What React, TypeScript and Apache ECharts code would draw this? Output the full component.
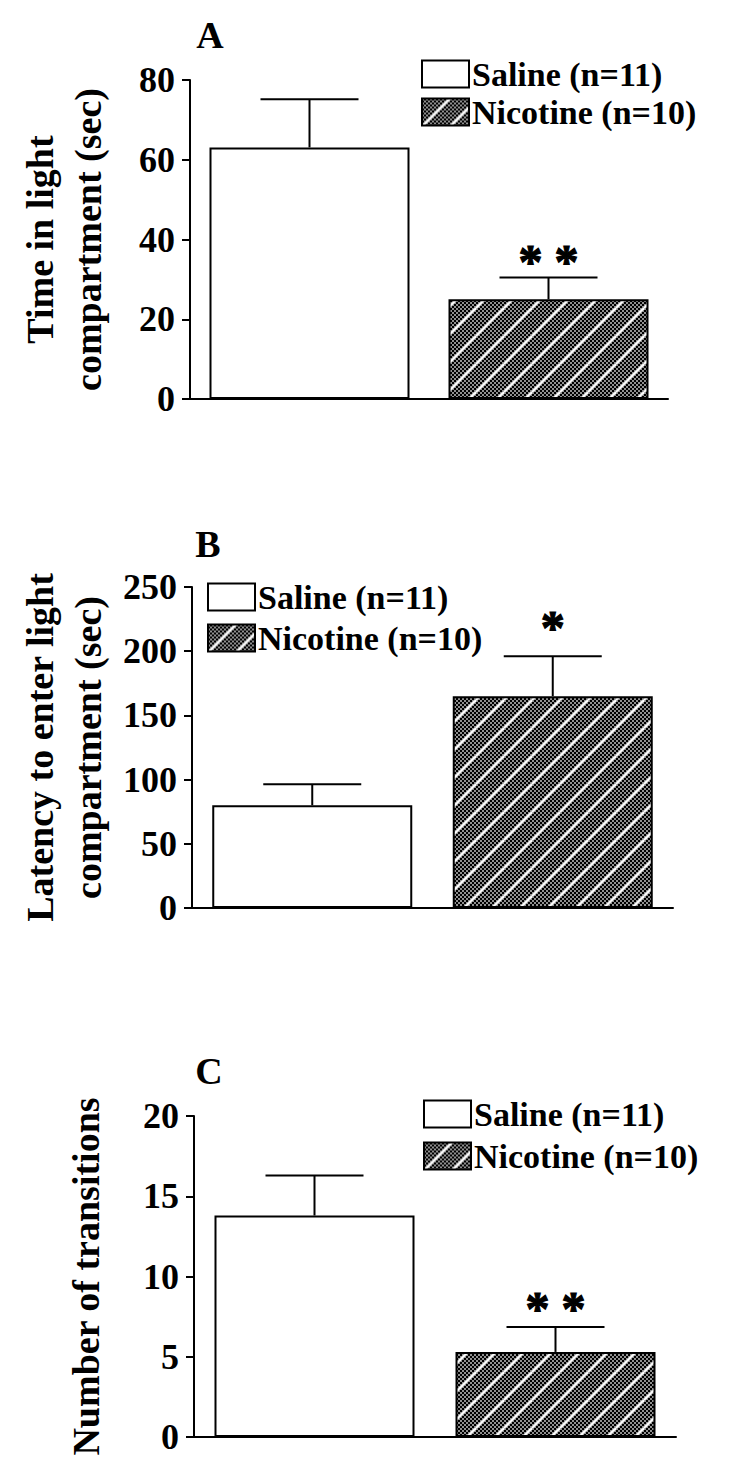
import React, { useEffect, useRef } from "react";
import * as echarts from "echarts";

// ---------- data ----------
const GROUPS = ["Saline (n=11)", "Nicotine (n=10)"];

const TIME_MEAN = [63.1, 25.0];
const TIME_SEM = [12.1, 5.5];
const TIME_SIG = ["", "**"];
const TIME_TICKS = [0, 20, 40, 60, 80];
const TIME_TITLE = "Time in light\ncompartment (sec)";

const LATENCY_MEAN = [80, 165];
const LATENCY_SEM = [16.3, 31];
const LATENCY_SIG = ["", "*"];
const LATENCY_TICKS = [0, 50, 100, 150, 200, 250];
const LATENCY_TITLE = "Latency to enter light\ncompartment (sec)";

const TRANS_MEAN = [13.8, 5.3];
const TRANS_SEM = [2.5, 1.55];
const TRANS_SIG = ["", "**"];
const TRANS_TICKS = [0, 5, 10, 15, 20];
const TRANS_TITLE = "Number of transitions";

const PANEL_LETTERS = ["A", "B", "C"];

// ---------- layout / style ----------
const FONT = '"Liberation Serif", "Times New Roman", serif';

const LAYOUT = [
  { left: 190, top: 80, width: 478, height: 319, nameGap: 78, legendLeft: 421, legendTop: 57, legendGap: 4, sigGap: 16, letterX: 210, letterY: 35 },
  { left: 192, top: 587, width: 481, height: 321, nameGap: 78, legendLeft: 207, legendTop: 580, legendGap: 7, sigGap: 29, letterX: 208, letterY: 544 },
  { left: 194, top: 1116, width: 482, height: 321, nameGap: 84, legendLeft: 423, legendTop: 1097, legendGap: 8, sigGap: 19, letterX: 209, letterY: 1071 },
];

function makePattern(): HTMLCanvasElement {
  const size = 28;
  const c = document.createElement("canvas");
  c.width = size;
  c.height = size;
  const ctx = c.getContext("2d")!;
  ctx.fillStyle = "#000";
  ctx.fillRect(0, 0, size, size);
  ctx.fillStyle = "#fff";
  for (let y = 0; y < size; y += 2) {
    const start = ((y / 2) % 2) * 2;
    for (let x = start; x < size; x += 4) {
      ctx.fillRect(x + 0.25, y + 0.25, 1.5, 1.5);
    }
  }
  ctx.strokeStyle = "#fff";
  ctx.lineWidth = 2.2;
  for (const off of [-size, 0, size]) {
    ctx.beginPath();
    ctx.moveTo(off, size);
    ctx.lineTo(off + size, 0);
    ctx.stroke();
  }
  return c;
}

export default function App() {
  const ref = useRef<HTMLDivElement>(null);

  useEffect(() => {
    document.body.style.margin = "0";
    if (!ref.current) return;
    const chart = echarts.init(ref.current, null, { renderer: "svg" });

    const pattern = {
      image: makePattern(),
      repeat: "repeat",
      imageWidth: 28,
      imageHeight: 28,
    };

    const panels = [
      { mean: TIME_MEAN, sem: TIME_SEM, sig: TIME_SIG, ticks: TIME_TICKS, title: TIME_TITLE },
      { mean: LATENCY_MEAN, sem: LATENCY_SEM, sig: LATENCY_SIG, ticks: LATENCY_TICKS, title: LATENCY_TITLE },
      { mean: TRANS_MEAN, sem: TRANS_SEM, sig: TRANS_SIG, ticks: TRANS_TICKS, title: TRANS_TITLE },
    ];

    const grid: any[] = [];
    const xAxis: any[] = [];
    const yAxis: any[] = [];
    const series: any[] = [];
    const legend: any[] = [];
    const graphic: any[] = [];

    panels.forEach((p, i) => {
      const L = LAYOUT[i];
      grid.push({ left: L.left, top: L.top, width: L.width, height: L.height });
      xAxis.push({
        type: "category",
        gridIndex: i,
        data: GROUPS,
        axisLine: { lineStyle: { color: "#000", width: 2 } },
        axisTick: { show: false },
        axisLabel: { show: false },
      });
      const tmin = p.ticks[0];
      const tmax = p.ticks[p.ticks.length - 1];
      const interval = p.ticks[1] - p.ticks[0];
      yAxis.push({
        type: "value",
        gridIndex: i,
        min: tmin,
        max: tmax,
        interval,
        axisLine: { show: true, lineStyle: { color: "#000", width: 2 } },
        axisTick: { show: true, length: 8, lineStyle: { color: "#000", width: 2 } },
        axisLabel: {
          color: "#000",
          fontFamily: FONT,
          fontWeight: "bold",
          fontSize: 36,
          margin: 15,
        },
        splitLine: { show: false },
        name: p.title,
        nameLocation: "middle",
        nameRotate: 90,
        nameGap: L.nameGap,
        nameTextStyle: {
          color: "#000",
          fontFamily: FONT,
          fontWeight: "bold",
          fontSize: 38,
          lineHeight: 48,
        },
      });

      series.push({
        type: "bar",
        name: GROUPS[0],
        xAxisIndex: i,
        yAxisIndex: i,
        barWidth: 200,
        barGap: "-100%",
        data: [p.mean[0], "-"],
        itemStyle: { color: "#fff", borderColor: "#000", borderWidth: 2 },
        z: 2,
      });
      series.push({
        type: "bar",
        name: GROUPS[1],
        xAxisIndex: i,
        yAxisIndex: i,
        barWidth: 200,
        barGap: "-100%",
        data: ["-", p.mean[1]],
        itemStyle: { color: pattern, borderColor: "#000", borderWidth: 2 },
        z: 2,
      });
      const sig = p.sig;
      const sigGap = L.sigGap;
      series.push({
        type: "custom",
        xAxisIndex: i,
        yAxisIndex: i,
        z: 5,
        encode: { x: 0, y: 1 },
        data: p.mean.map((m, k) => [k, m, p.sem[k]]),
        renderItem: (params: any, api: any) => {
          const k = api.value(0);
          const m = api.value(1);
          const s = api.value(2);
          const base = api.coord([k, m]);
          const top = api.coord([k, m + s]);
          const half = 49;
          const children: any[] = [
            {
              type: "line",
              shape: { x1: base[0], y1: base[1], x2: top[0], y2: top[1] },
              style: { stroke: "#000", lineWidth: 2 },
            },
            {
              type: "line",
              shape: { x1: top[0] - half, y1: top[1], x2: top[0] + half, y2: top[1] },
              style: { stroke: "#000", lineWidth: 2 },
            },
          ];
          const label = sig[params.dataIndex];
          if (label) {
            children.push({
              type: "text",
              style: {
                text: label.split("").join(" "),
                x: top[0],
                y: top[1] - sigGap,
                fill: "#000",
                stroke: "#000",
                lineWidth: 1.2,
                font: `bold 48px ${FONT}`,
                align: "center",
                verticalAlign: "middle",
              },
            });
          }
          return { type: "group", children };
        },
      });

      legend.push({
        orient: "vertical",
        left: L.legendLeft,
        top: L.legendTop,
        padding: 0,
        itemGap: L.legendGap,
        itemWidth: 47,
        itemHeight: 27,
        icon: "rect",
        selectedMode: false,
        data: GROUPS,
        itemStyle: { borderColor: "#000", borderWidth: 2 },
        textStyle: {
          color: "#000",
          fontFamily: FONT,
          fontWeight: "bold",
          fontSize: 34,
          lineHeight: 34,
          padding: [0, 0, 0, -2],
        },
      });

      graphic.push({
        type: "text",
        x: L.letterX,
        y: L.letterY,
        style: {
          text: PANEL_LETTERS[i],
          fill: "#000",
          font: `bold 38px ${FONT}`,
          align: "center",
          verticalAlign: "middle",
        },
      });
    });

    chart.setOption({
      animation: false,
      backgroundColor: "#fff",
      grid,
      xAxis,
      yAxis,
      series,
      legend,
      graphic,
    });

    return () => chart.dispose();
  }, []);

  return <div ref={ref} style={{ width: 750, height: 1479 }} />;
}
